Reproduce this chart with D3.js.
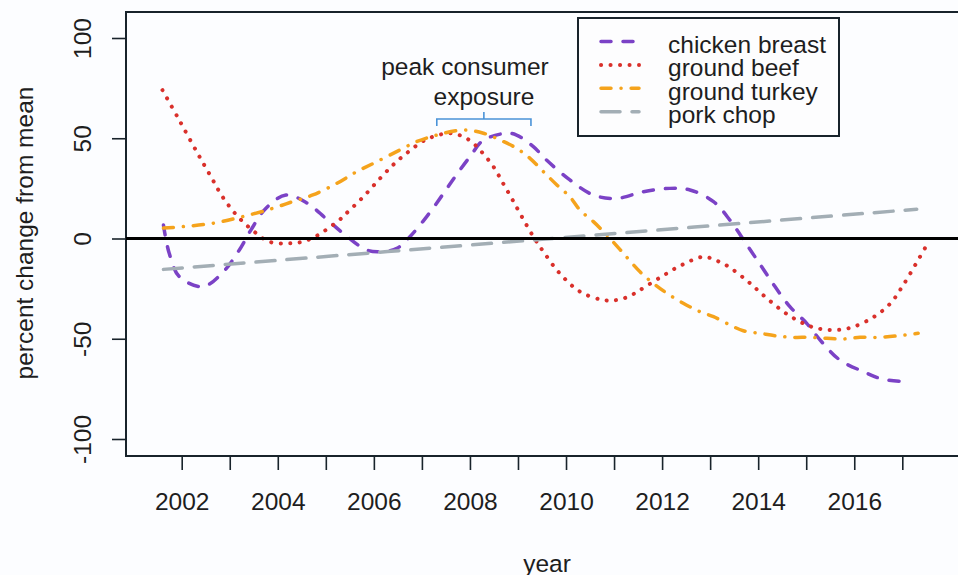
<!DOCTYPE html>
<html>
<head>
<meta charset="utf-8">
<script src="https://cdn.jsdelivr.net/npm/d3@7"></script>
<style>
  body { margin: 0; background: #fcfdff; }
  svg { display: block; font-family: "Liberation Sans", Arial, sans-serif; }
</style>
</head>
<body>
<svg id="chart" width="958" height="575"></svg>
<script>
(function() {
"use strict";

// values: [year, percent change from mean]
var chickenBreast = [
  [2001.62, 6.7], [2001.74, -7.4], [2001.95, -19], [2002.44, -24], [2002.85, -17],
  [2003.20, -5.7], [2003.44, 4.2], [2003.75, 15], [2004.17, 21.7], [2004.62, 17.5],
  [2005.00, 10], [2005.36, 2.6], [2005.85, -5.7], [2006.13, -6.6], [2006.48, -4.9],
  [2006.75, 0.9], [2007.10, 10.9], [2007.45, 22.5], [2007.69, 30.8], [2008.00, 40.8],
  [2008.28, 49], [2008.77, 52.5], [2008.97, 51.6], [2009.32, 45.8], [2009.60, 39],
  [2010.08, 29.2], [2010.57, 21.7], [2011.05, 20], [2011.61, 23.3], [2012.16, 25],
  [2012.58, 24.2], [2013.07, 18.4], [2013.41, 9.2], [2013.76, -3], [2014.07, -14],
  [2014.35, -24], [2014.66, -34], [2015.01, -42.3], [2015.32, -51.5], [2015.70, -60.6],
  [2016.19, -66.4], [2016.60, -70.2], [2017.16, -71.4]
];

var groundBeef = [
  [2001.60, 74], [2001.95, 59], [2002.33, 42.5], [2002.61, 30.8], [2002.85, 20.8],
  [2003.17, 10.9], [2003.51, 3.4], [2003.82, -1.6], [2004.24, -2.4], [2004.52, -1.6],
  [2004.80, 1.2], [2005.00, 4.2], [2005.28, 9.2], [2005.43, 12.6], [2005.78, 20.8],
  [2006.13, 30], [2006.40, 36.7], [2006.68, 42.5], [2007.10, 49.5], [2007.58, 52.5],
  [2007.86, 50.8], [2008.07, 47.5], [2008.24, 43.3], [2008.49, 35.8], [2008.69, 27.5],
  [2008.87, 20], [2009.08, 10.9], [2009.32, 0.9], [2009.53, -6.6], [2009.87, -17.4],
  [2010.29, -26.5], [2010.78, -30.7], [2011.05, -30.7], [2011.30, -29], [2011.54, -25.7],
  [2011.99, -19], [2012.41, -13.2], [2012.86, -9.1], [2013.10, -10.7], [2013.38, -14],
  [2013.79, -21.5], [2014.18, -29.8], [2014.63, -38.2], [2015.11, -44], [2015.50, -45.6],
  [2015.88, -44.8], [2016.36, -39.8], [2016.74, -32.7], [2017.02, -23.2], [2017.33, -10.7],
  [2017.47, -4.9]
];

var groundTurkey = [
  [2001.62, 5.2], [2002.02, 5.9], [2002.65, 7.6], [2003.27, 10.9], [2003.89, 15],
  [2004.31, 18.4], [2004.73, 21.7], [2005.23, 27.5], [2005.64, 33.3], [2006.06, 38.3],
  [2006.54, 44.1], [2006.89, 48.3], [2007.31, 51.6], [2007.86, 54.1], [2008.28, 52.5],
  [2008.63, 49.1], [2008.97, 45], [2009.25, 40], [2009.53, 33.3], [2009.81, 26.7],
  [2010.08, 20.8], [2010.29, 14.2], [2010.57, 8.4], [2010.85, 1.7], [2011.13, -5.7],
  [2011.54, -16.6], [2011.82, -22.4], [2012.10, -27.3], [2012.44, -32.3], [2012.79, -36.5],
  [2013.07, -39], [2013.41, -43.1], [2013.69, -46], [2014.04, -47.3], [2014.39, -48.6],
  [2014.73, -49.3], [2015.08, -49.3], [2015.43, -49.8], [2015.77, -50.1], [2016.12, -49.3],
  [2016.47, -49.3], [2016.88, -48.6], [2017.23, -47.6], [2017.33, -47.3]
];

var porkChop = [
  [2001.62, -15.4], [2009.5, -0.4], [2017.3, 14.6]
];

var seriesNames = ["chicken breast", "ground beef", "ground turkey", "pork chop"];
var xTickYears = d3.range(2002, 2018);
var yTickValues = [-100, -50, 0, 50, 100];
var bracketYears = [2007.31, 2008.29, 2009.27];

var styles = [
  {data: chickenBreast, color: "#7b42c6", dash: "10,12", width: 3.5},
  {data: groundBeef, color: "#d9302b", dash: "0.1,9.4", width: 4},
  {data: groundTurkey, color: "#f5a31c", dash: "10,10,0.1,10", width: 3.5},
  {data: porkChop, color: "#a3aeb5", dash: "19,12", width: 3.5}
];

var svg = d3.select("#chart");
var fontSize = "24.5px";
var textColor = "#1e1e1e";

var plot = {left: 126, top: 12, bottom: 456, right: 958};

var x = d3.scaleLinear().domain([2002, 2017]).range([181.7, 902.3]);
var y = d3.scaleLinear().domain([-100, 100]).range([439, 38]);

// frame
svg.append("rect")
  .attr("x", plot.left)
  .attr("y", plot.top)
  .attr("width", 900)
  .attr("height", plot.bottom - plot.top)
  .attr("fill", "none")
  .attr("stroke", "#18232b")
  .attr("stroke-width", 2);

// axes
var xAxis = d3.axisBottom(x)
  .tickValues(xTickYears)
  .tickSize(14)
  .tickPadding(26)
  .tickFormat(function(d) { return d % 2 === 0 && d < 2017 ? d : ""; });

var gx = svg.append("g")
  .attr("transform", "translate(0," + plot.bottom + ")")
  .call(xAxis);

var yAxis = d3.axisLeft(y)
  .tickValues(yTickValues)
  .tickSize(14)
  .tickPadding(0)
  .tickFormat(function(d) { return String(d); });

var gy = svg.append("g")
  .attr("transform", "translate(" + plot.left + ",0)")
  .call(yAxis);

[gx, gy].forEach(function(g) {
  g.select(".domain").remove();
  g.selectAll("line").attr("stroke", "#18232b").attr("stroke-width", 1.6);
  g.selectAll("text")
    .attr("fill", textColor)
    .style("font-size", fontSize)
    .style("font-family", "'Liberation Sans', Arial, sans-serif");
});

gx.selectAll("text").attr("dy", null).attr("y", 54);

// y tick labels are rotated like R's default
gy.selectAll(".tick text")
  .attr("x", null)
  .attr("dy", null)
  .attr("text-anchor", "middle")
  .attr("transform", "translate(-35,0) rotate(-90)");

// axis titles
svg.append("text")
  .attr("transform", "translate(33,233) rotate(-90)")
  .attr("text-anchor", "middle")
  .attr("fill", textColor)
  .style("font-size", fontSize)
  .text("percent change from mean");

svg.append("text")
  .attr("x", 547)
  .attr("y", 572)
  .attr("text-anchor", "middle")
  .attr("fill", textColor)
  .style("font-size", fontSize)
  .text("year");

// series
var line = d3.line()
  .x(function(d) { return x(d[0]); })
  .y(function(d) { return y(d[1]); })
  .curve(d3.curveCatmullRom.alpha(0.5));

svg.append("g").selectAll("path")
  .data(styles)
  .enter()
  .append("path")
  .attr("d", function(d) { return line(d.data); })
  .attr("fill", "none")
  .attr("stroke", function(d) { return d.color; })
  .attr("stroke-width", function(d) { return d.width; })
  .attr("stroke-dasharray", function(d) { return d.dash; })
  .attr("stroke-linecap", "round");

// zero line
svg.append("line")
  .attr("x1", plot.left)
  .attr("x2", plot.right)
  .attr("y1", y(0))
  .attr("y2", y(0))
  .attr("stroke", "#000")
  .attr("stroke-width", 3);

// annotation
var annot = svg.append("g")
  .attr("fill", textColor)
  .style("font-size", fontSize);

annot.append("text")
  .attr("x", 465)
  .attr("y", 75)
  .attr("text-anchor", "middle")
  .text("peak consumer");

annot.append("text")
  .attr("x", 484)
  .attr("y", 105)
  .attr("text-anchor", "middle")
  .text("exposure");

var by = 119;
var bracket = "M" + x(bracketYears[0]) + "," + (by + 7) +
  "V" + by + "H" + x(bracketYears[2]) + "V" + (by + 7) +
  "M" + x(bracketYears[1]) + "," + by + "V" + (by - 7);

svg.append("path")
  .attr("d", bracket)
  .attr("fill", "none")
  .attr("stroke", "#4a93d8")
  .attr("stroke-width", 1.6);

// legend
var legend = svg.append("g");

legend.append("rect")
  .attr("x", 578)
  .attr("y", 18)
  .attr("width", 261)
  .attr("height", 118)
  .attr("fill", "#fdfdfe")
  .attr("stroke", "#18232b")
  .attr("stroke-width", 2);

var rows = legend.selectAll("g.row")
  .data(styles)
  .enter()
  .append("g")
  .attr("class", "row")
  .attr("transform", function(d, i) { return "translate(0," + (41.5 + i * 23.4) + ")"; });

rows.append("line")
  .attr("x1", 601)
  .attr("x2", 639)
  .attr("stroke", function(d) { return d.color; })
  .attr("stroke-width", function(d) { return d.width; })
  .attr("stroke-dasharray", function(d) { return d.dash; })
  .attr("stroke-linecap", "round");

rows.append("text")
  .attr("x", 668)
  .attr("y", 11.5)
  .attr("fill", textColor)
  .style("font-size", fontSize)
  .text(function(d, i) { return seriesNames[i]; });

})();
</script>
</body>
</html>
